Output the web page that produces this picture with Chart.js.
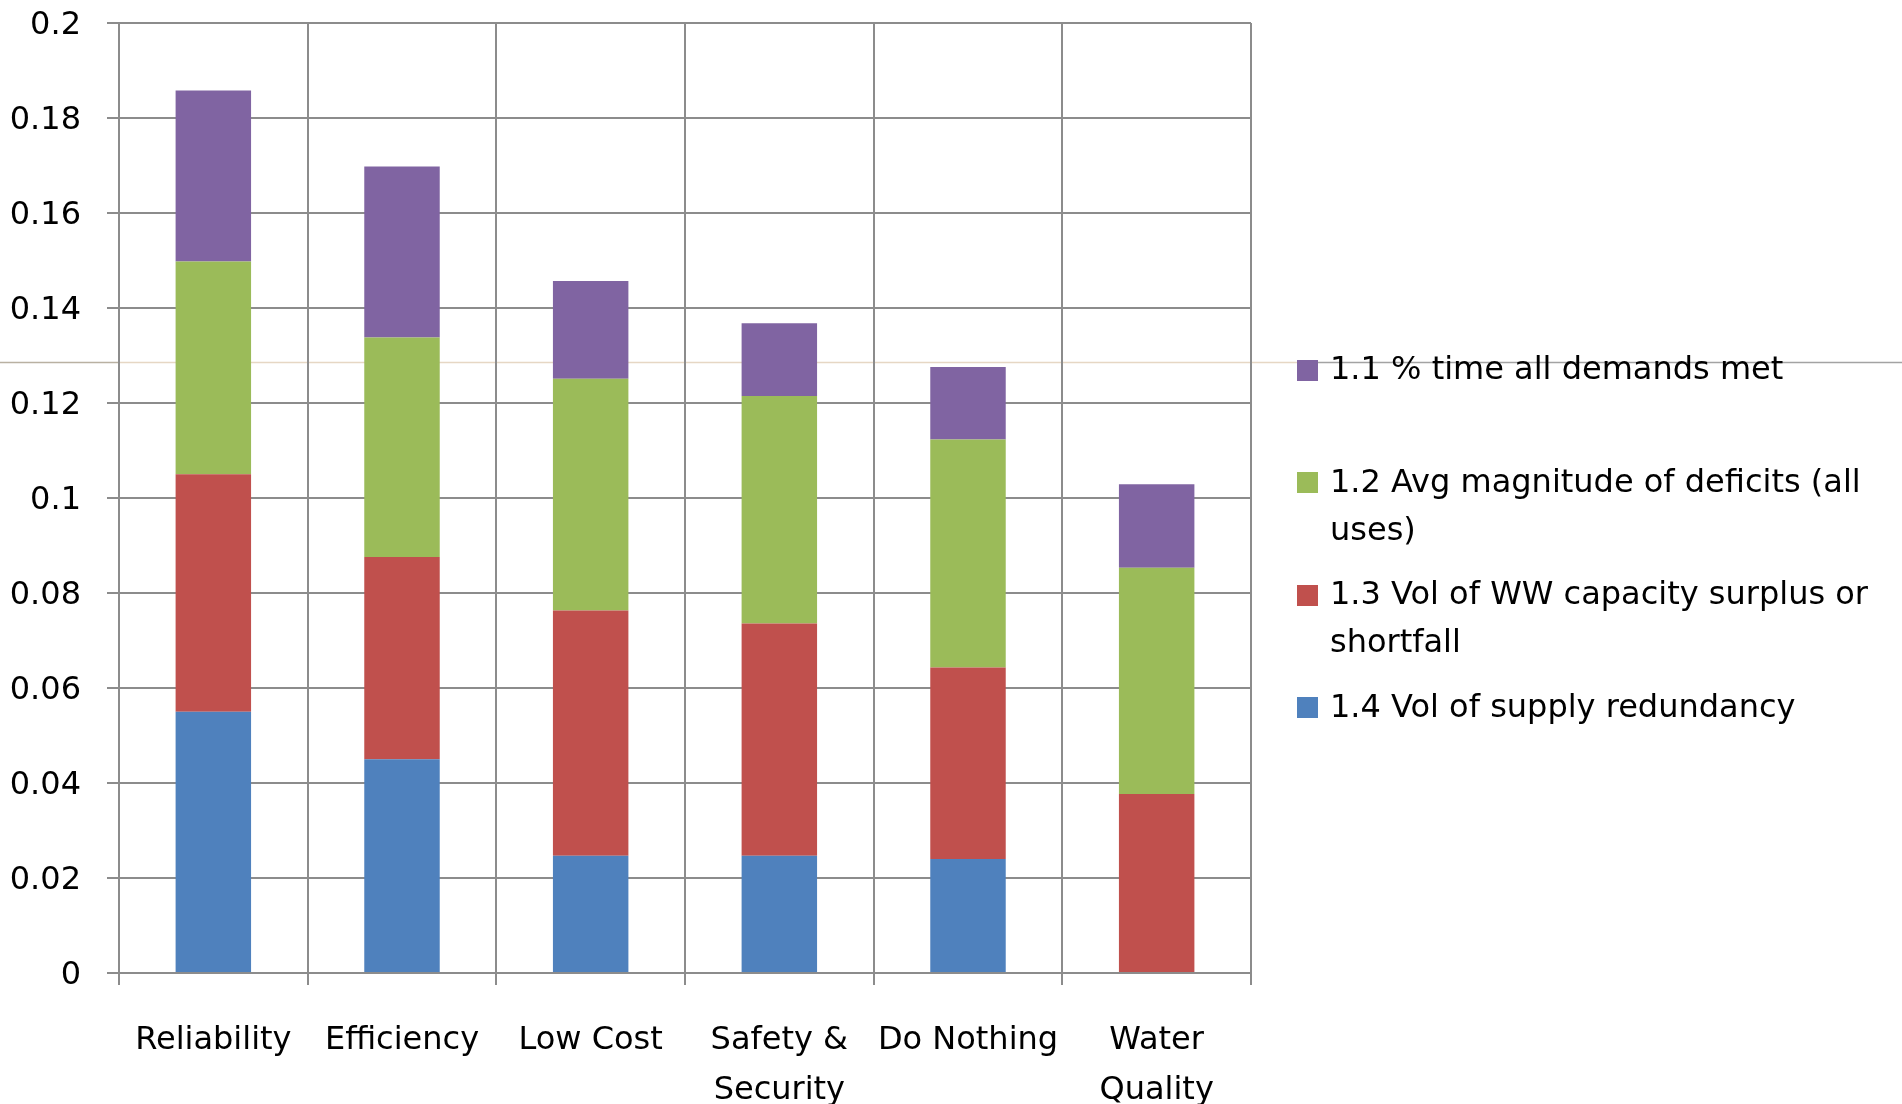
<!DOCTYPE html>
<html>
<head>
<meta charset="utf-8">
<title>Stacked criteria weights</title>
<script src="https://cdn.jsdelivr.net/npm/chart.js@4/dist/chart.umd.min.js"></script>
<style>
  html, body { margin: 0; padding: 0; background: #ffffff; overflow: hidden; }
  #wrap { position: relative; width: 1902px; height: 1104px; }
</style>
</head>
<body>
<div id="wrap"><canvas id="chart" width="1902" height="1104"></canvas></div>
<script>
// Portfolios on the x axis
const categories = [['Reliability'], ['Efficiency'], ['Low Cost'], ['Safety &', 'Security'], ['Do Nothing'], ['Water', 'Quality']];

// Stacked contributions, bottom to top
const supplyRedundancy = [0.055, 0.045, 0.0247, 0.0247, 0.024, 0];
const wwCapacity       = [0.050, 0.0426, 0.0516, 0.0489, 0.0403, 0.0377];
const avgDeficits      = [0.0448, 0.0462, 0.0488, 0.0479, 0.0480, 0.0476];
const timeDemandsMet   = [0.036, 0.036, 0.0206, 0.0153, 0.0153, 0.0176];

const seriesNames = [
  '1.4 Vol of supply redundancy',
  '1.3 Vol of WW capacity surplus or shortfall',
  '1.2 Avg magnitude of deficits (all uses)',
  '1.1 % time all demands met'
];
const seriesColors = ['#4F81BD', '#C0504D', '#9BBB59', '#8064A2'];

// Value axis
const yMin = 0, yMax = 0.2, yStep = 0.02;

// Faint horizontal rule crossing the figure
const guideLevel = 0.1287;

const FONT = '"DejaVu Sans"';
const FONT_SIZE = 32;
const GRID = '#8c8c8c';

const guidePlugin = {
  id: 'guideRule',
  beforeDraw(chart, args, opts) {
    const y = Math.round(chart.scales.y.getPixelForValue(opts.level)) + 0.5;
    const ctx = chart.ctx;
    ctx.save();
    ctx.lineWidth = 1.5;
    opts.segments.forEach(s => {
      ctx.strokeStyle = s.color;
      ctx.beginPath();
      ctx.moveTo(s.from, y);
      ctx.lineTo(s.to, y);
      ctx.stroke();
    });
    ctx.restore();
  }
};

function wrapWords(ctx, text, maxWidth) {
  const words = text.split(' ');
  const lines = [];
  let cur = '';
  words.forEach(w => {
    const t = cur ? cur + ' ' + w : w;
    if (ctx.measureText(t).width > maxWidth && cur) { lines.push(cur); cur = w; }
    else cur = t;
  });
  if (cur) lines.push(cur);
  return lines;
}

// Legend on the right: one fixed-height slot per series, top series first
const sideLegend = {
  id: 'sideLegend',
  afterDraw(chart, args, opts) {
    const ctx = chart.ctx;
    const sets = chart.data.datasets.slice().reverse();
    ctx.save();
    ctx.font = `${opts.size}px ${opts.family}`;
    ctx.textBaseline = 'middle';
    ctx.textAlign = 'left';
    sets.forEach((ds, i) => {
      const cy = opts.top + i * opts.slot;
      ctx.fillStyle = ds.backgroundColor;
      ctx.fillRect(opts.boxX, Math.round(cy - opts.box / 2), opts.box, opts.box);
      ctx.fillStyle = opts.color;
      const lines = wrapWords(ctx, ds.label, opts.maxWidth);
      lines.forEach((ln, j) => ctx.fillText(ln, opts.textX, cy + opts.textShift + j * opts.lineHeight));
    });
    ctx.restore();
  }
};

const datasets = [supplyRedundancy, wwCapacity, avgDeficits, timeDemandsMet].map((vals, i) => ({
  label: seriesNames[i],
  data: vals,
  backgroundColor: seriesColors[i],
  borderWidth: 0,
  categoryPercentage: 1,
  barPercentage: 0.4
}));

new Chart(document.getElementById('chart'), {
  type: 'bar',
  data: { labels: categories, datasets },
  options: {
    responsive: false,
    animation: false,
    devicePixelRatio: 1,
    layout: { padding: { top: 23, right: 651, left: 0, bottom: 0 } },
    plugins: {
      legend: { display: false },
      tooltip: { enabled: false },
      guideRule: {
        level: guideLevel,
        segments: [
          { from: 0, to: 119, color: '#b9b1a2' },
          { from: 119, to: 1297, color: '#e6d7c4' },
          { from: 1297, to: 1902, color: '#a3a3a3' }
        ]
      },
      sideLegend: {
        family: FONT, size: FONT_SIZE, color: '#000000',
        top: 370, slot: 112.5, box: 21, boxX: 1297, textX: 1330,
        textShift: 1, lineHeight: 48, maxWidth: 570
      }
    },
    scales: {
      x: {
        stacked: true,
        offset: true,
        grid: { offset: true, color: GRID, lineWidth: 2, tickLength: 12, drawTicks: true },
        border: { color: GRID, width: 2 },
        ticks: {
          color: '#000000', padding: 31, maxRotation: 0, autoSkip: false,
          font: { family: FONT, size: FONT_SIZE, lineHeight: '50px' }
        },
        afterFit(scale) { scale.height = 131; }
      },
      y: {
        stacked: true,
        min: yMin, max: yMax,
        grid: { color: GRID, lineWidth: 2, tickLength: 12 },
        border: { color: GRID, width: 2 },
        ticks: {
          stepSize: yStep, color: '#000000', padding: 26, labelOffset: 3,
          font: { family: FONT, size: FONT_SIZE },
          callback: v => String(+Number(v).toFixed(2))
        },
        afterFit(scale) {
          scale.width = 119;
          scale.paddingTop = 0;
          scale.paddingBottom = 0;
        }
      }
    }
  },
  plugins: [guidePlugin, sideLegend]
});
</script>
</body>
</html>
